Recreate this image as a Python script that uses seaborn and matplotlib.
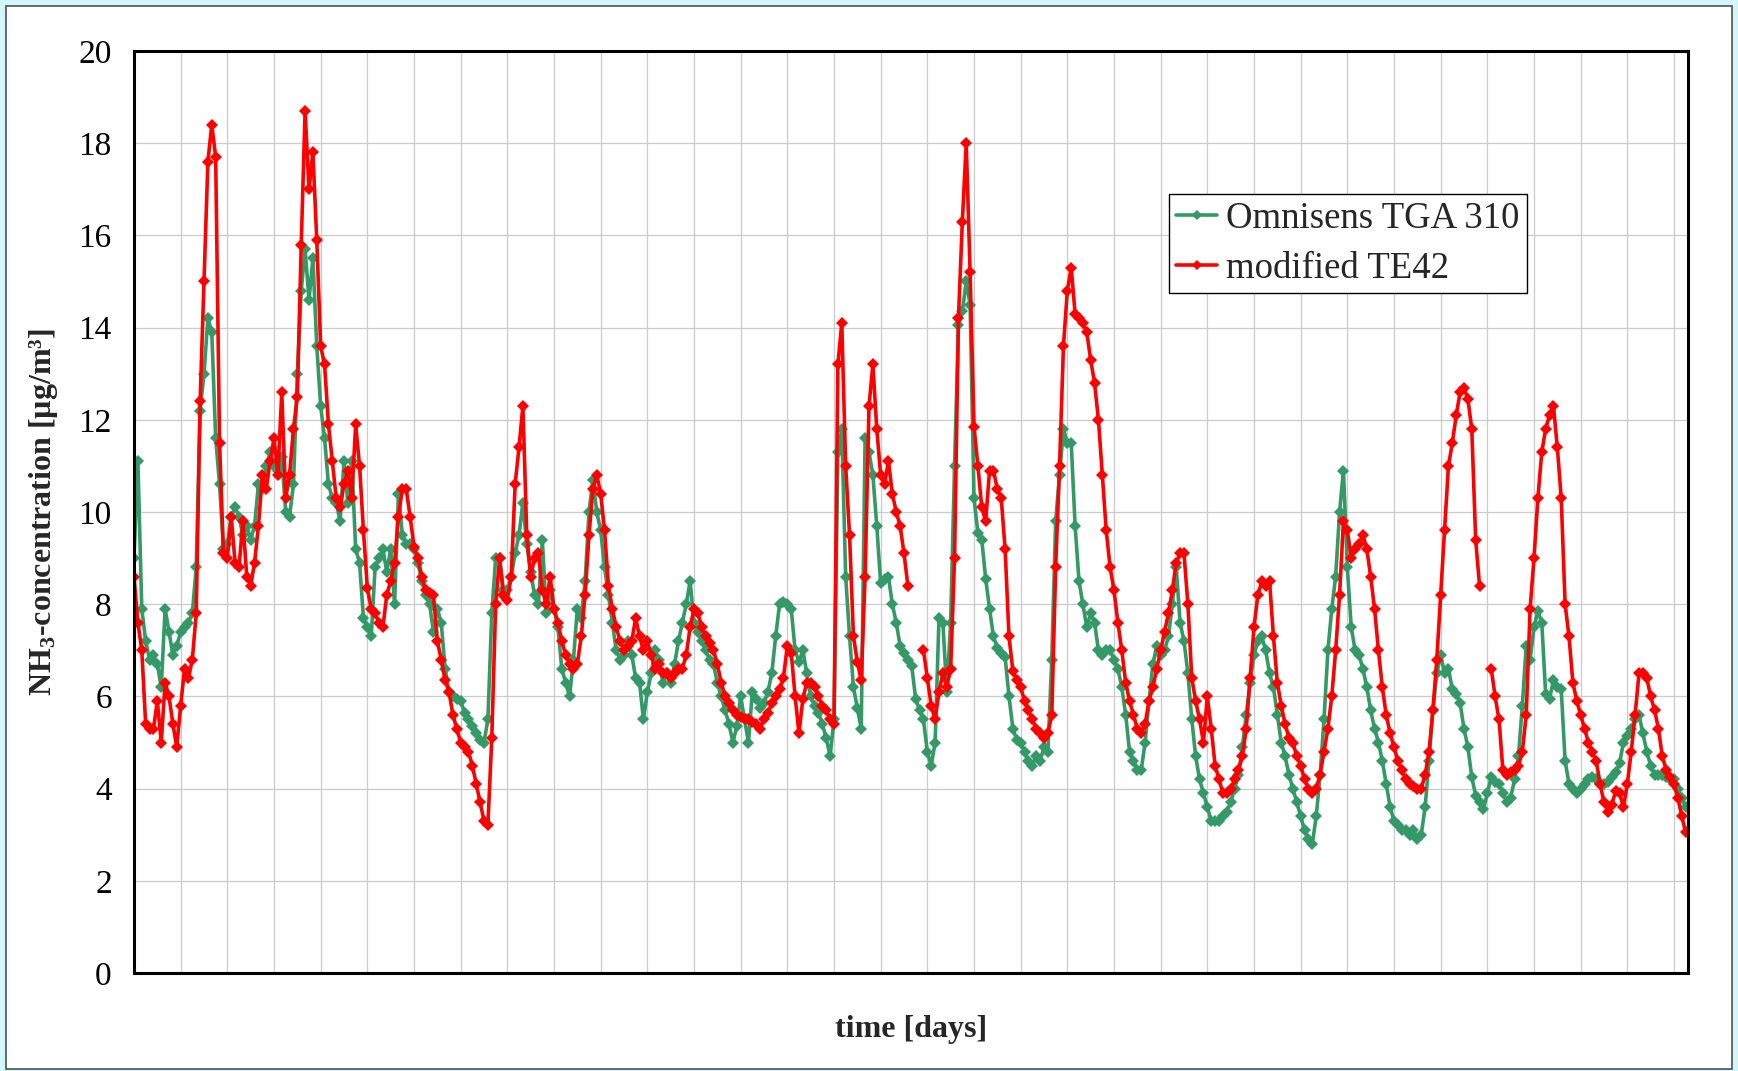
import numpy as np
import pandas as pd
import matplotlib
matplotlib.use("Agg")
import matplotlib.pyplot as plt
from matplotlib.lines import Line2D
from matplotlib.patches import Rectangle
import seaborn as sns

SAMPLES_PER_DAY = 12  # two-hourly readings
N_DAYS_SHOWN = 33.3

# NH3 concentration [µg/m³], one row per day (12 readings each)
omnisens_tga310 = [
    9.0, 11.1, 7.9, 7.2, 6.8, 6.9, 6.7, 6.2, 7.9, 7.4, 6.9, 7.1,
    7.4, 7.5, 7.6, 7.8, 8.8, 12.2, 13.0, 14.2, 13.9, 11.6, 10.6, 9.2,
    9.3, 9.9, 10.1, 9.9, 9.5, 9.7, 9.4, 9.7, 10.6, 10.5, 11.0, 11.3,
    11.0, 10.9, 11.2, 10.0, 9.9, 10.6, 13.0, 14.8, 15.7, 14.6, 15.5, 13.6,
    12.3, 11.6, 10.6, 10.3, 10.2, 9.8, 11.1, 10.2, 11.1, 9.2, 8.9, 7.7,
    7.5, 7.3, 8.8, 9.0, 9.2, 8.7, 9.2, 8.0, 10.4, 9.5, 9.3, 9.3,
    9.2, 8.9, 8.5, 8.2, 8.0, 7.4, 7.9, 7.6, 6.6, 6.1, 6.0, 5.95,
    5.9, 5.65, 5.5, 5.35, 5.2, 5.05, 5.0, 5.5, 7.8, 9.0, 9.0, 8.3,
    8.3, 8.6, 9.1, 9.5, 10.2, 9.3, 8.7, 8.2, 8.0, 9.4, 7.8, 8.3,
    7.9, 7.5, 6.6, 6.3, 6.0, 6.8, 7.9, 7.7, 8.5, 10.0, 10.7, 10.0,
    9.6, 8.8, 8.2, 7.6, 7.0, 6.8, 6.9, 7.2, 6.9, 6.4, 6.3, 5.5,
    6.1, 6.5, 7.0, 6.8, 6.3, 6.5, 6.3, 6.7, 7.2, 7.6, 8.0, 8.5,
    7.6, 7.4, 7.2, 7.0, 6.8, 6.7, 6.3, 6.0, 5.7, 5.4, 5.0, 5.35,
    6.0, 5.5, 5.0, 6.1, 5.95, 5.75, 5.85, 6.1, 6.5, 7.3, 8.0, 8.05,
    8.0, 7.9, 7.0, 6.75, 7.0, 6.5, 6.0, 5.8, 5.65, 5.4, 5.1, 4.7,
    5.5, 11.3, 11.8, 8.6, 7.3, 6.2, 5.75, 5.3, 11.6, 11.3, 10.8, 9.7,
    8.45, 8.55, 8.6, 8.0, 7.6, 7.1, 6.95, 6.8, 6.65, 5.95, 5.7, 5.5,
    4.8, 4.5, 5.0, 7.7, 7.6, 6.1, 7.6, 11.0, 14.05, 14.35, 15.0, 14.5,
    10.3, 9.55, 9.4, 8.55, 7.9, 7.3, 7.05, 6.95, 6.85, 6.0, 5.3, 5.05,
    5.0, 4.8, 4.6, 4.5, 4.7, 4.6, 4.9, 4.8, 6.8, 9.8, 10.8, 11.8,
    11.5, 11.5, 9.7, 8.5, 8.0, 7.5, 7.8, 7.6, 7.0, 6.9, 7.0, 7.0,
    6.8, 6.6, 6.2, 5.6, 4.8, 4.6, 4.4, 4.4, 5.0, 5.9, 6.7, 7.1,
    6.9, 7.0, 7.3, 8.0, 8.8, 7.6, 7.2, 6.5, 5.5, 4.7, 4.2, 3.9,
    3.6, 3.3, 3.3, 3.3, 3.4, 3.5, 3.7, 4.0, 4.3, 4.9, 5.6, 6.3,
    6.9, 7.2, 7.3, 7.0, 6.5, 6.2, 5.6, 5.0, 4.7, 4.3, 4.0, 3.7,
    3.4, 3.1, 2.9, 2.8, 3.4, 4.3, 5.5, 7.0, 7.9, 8.6, 10.0, 10.9,
    8.8, 7.5, 7.0, 6.9, 6.6, 6.2, 5.7, 5.3, 5.0, 4.6, 4.1, 3.6,
    3.3, 3.2, 3.1, 3.1, 3.0, 3.1, 2.9, 3.0, 3.6, 4.6, 5.7, 6.5,
    6.9, 6.5, 6.6, 6.15, 6.05, 5.85, 5.3, 4.9, 4.25, 3.85, 3.7, 3.55,
    3.9, 4.25, 4.15, 4.1, 3.9, 3.7, 3.8, 4.2, 4.7, 5.8, 7.1, 6.8,
    7.5, 7.85, 7.6, 6.05, 5.95, 6.35, 6.2, 6.15, 4.6, 4.1, 4.0, 3.9,
    4.0, 4.1, 4.2, 4.25, 4.2, 4.1, 4.1, 4.15, 4.25, 4.35, 4.55, 5.0,
    5.15, 5.3, 5.5, 5.6, 5.2, 4.8, 4.5, 4.3, 4.3, 4.3, 4.25, 4.2,
    4.2, 4.0, 3.8, 3.6,
]

modified_te42 = [
    8.6, 7.6, 7.0, 5.4, 5.3, 5.3, 5.9, 5.0, 6.3, 6.0, 5.4, 4.9,
    5.8, 6.6, 6.4, 6.8, 7.8, 12.4, 15.0, 17.6, 18.4, 17.7, 11.5, 9.1,
    9.0, 9.9, 8.9, 8.8, 9.8, 8.6, 8.4, 8.9, 9.7, 10.8, 10.5, 11.1,
    11.6, 10.8, 12.6, 10.3, 10.8, 11.8, 12.5, 15.8, 18.7, 17.0, 17.8, 15.9,
    13.6, 13.2, 11.9, 11.1, 10.3, 10.1, 10.6, 10.9, 10.3, 11.9, 11.0, 9.6,
    8.35, 7.9, 7.8, 7.6, 7.5, 8.2, 8.5, 8.9, 9.9, 10.5, 10.5, 9.9,
    9.25, 9.0, 8.6, 8.3, 8.25, 8.2, 7.2, 6.8, 6.35, 6.1, 5.6, 5.3,
    5.0, 4.9, 4.8, 4.5, 4.1, 3.7, 3.3, 3.2, 5.1, 8.0, 9.0, 8.2,
    8.1, 8.6, 10.6, 11.4, 12.3, 9.5, 8.6, 9.0, 9.1, 8.3, 8.0, 8.6,
    7.9, 7.6, 7.2, 6.9, 6.7, 6.6, 6.7, 7.3, 8.2, 9.5, 10.5, 10.8,
    10.4, 9.6, 8.4, 7.9, 7.5, 7.2, 7.0, 7.1, 7.2, 7.7, 7.3, 7.0,
    7.2, 6.9, 6.6, 6.7, 6.5, 6.5, 6.4, 6.5, 6.6, 6.6, 6.9, 7.5,
    7.9, 7.8, 7.5, 7.3, 7.15, 7.0, 6.7, 6.3, 6.0, 5.85, 5.7, 5.6,
    5.55, 5.5, 5.5, 5.45, 5.4, 5.3, 5.5, 5.65, 5.85, 6.0, 6.15, 6.4,
    7.1, 6.95, 6.0, 5.2, 5.95, 6.3, 6.3, 6.2, 6.0, 5.8, 5.7, 5.5,
    5.4, 13.2, 14.1, 11.0, 9.5, 7.3, 6.75, 6.35, 8.6, 12.3, 13.2, 11.8,
    10.8, 10.6, 11.1, 10.4, 10.0, 9.7, 9.1, 8.4, np.nan, np.nan, np.nan, 7.0,
    6.4, 5.8, 5.5, 6.1, 6.5, 6.2, 6.6, 9.0, 14.2, 16.3, 18.0, 15.2,
    11.85, 11.0, 10.1, 9.8, 10.9, 10.9, 10.5, 10.3, 9.2, 7.3, 6.55, 6.35,
    6.2, 5.9, 5.7, 5.5, 5.3, 5.2, 5.1, 5.2, 5.6, 8.8, 11.0, 13.6,
    14.8, 15.3, 14.3, 14.2, 14.1, 13.9, 13.3, 12.8, 12.0, 10.8, 9.6, 8.8,
    8.3, 7.6, 7.0, 6.3, 5.9, 5.6, 5.3, 5.2, 5.4, 5.9, 6.2, 6.6,
    7.0, 7.4, 7.8, 8.3, 8.9, 9.1, 9.1, 8.0, 6.4, 5.9, 5.5, 5.0,
    6.0, 5.3, 4.5, 4.2, 3.9, 3.9, 4.0, 4.2, 4.4, 4.7, 5.3, 6.4,
    7.5, 8.2, 8.5, 8.4, 8.5, 7.3, 6.3, 5.8, 5.4, 5.1, 5.0, 4.7,
    4.5, 4.2, 4.0, 3.9, 4.0, 4.3, 4.8, 5.3, 6.0, 7.0, 8.2, 9.8,
    9.6, 9.0, 9.2, 9.3, 9.5, 9.2, 8.6, 7.9, 7.0, 6.2, 5.6, 5.2,
    4.9, 4.6, 4.4, 4.2, 4.1, 4.05, 4.0, 4.0, 4.3, 4.8, 5.7, 6.8,
    8.2, 9.6, 11.0, 11.5, 12.1, 12.6, 12.7, 12.45, 11.8, 9.4, 8.4, np.nan,
    np.nan, 6.6, 6.0, 5.5, 4.4, 4.3, 4.35, 4.4, 4.5, 4.8, 5.6, 7.9,
    9.0, 10.3, 11.3, 11.8, 12.1, 12.3, 11.4, 10.3, 8.0, 7.3, 6.3, 5.9,
    5.6, 5.3, 5.0, 4.8, 4.6, 4.1, 3.7, 3.5, 3.65, 3.95, 3.9, 3.6,
    4.1, 4.8, 5.6, 6.5, 6.5, 6.4, 6.0, 5.7, 5.3, 4.7, 4.4, 4.25,
    4.1, 3.8, 3.4, 3.05,
]

series_names = ["Omnisens TGA 310", "modified TE42"]
series_colors = {"Omnisens TGA 310": "#339966", "modified TE42": "#FF0000"}
y_ticks = list(range(0, 21, 2))


def to_long(values, name):
    vals = np.asarray(values, dtype=float)
    day = np.arange(len(vals)) / SAMPLES_PER_DAY
    # a new segment starts after every gap so the line is broken there
    seg = np.cumsum(np.isnan(vals))
    frame = pd.DataFrame({"day": day, "conc": vals, "series": name,
                          "segment": [f"{name}-{s}" for s in seg]})
    return frame.dropna()


df = pd.concat([to_long(omnisens_tga310, series_names[0]),
                to_long(modified_te42, series_names[1])], ignore_index=True)

sns.set_style("white")
plt.rcParams["font.family"] = ["Liberation Serif", "DejaVu Serif"]
plt.rcParams["mathtext.fontset"] = "custom"
plt.rcParams["mathtext.rm"] = "Liberation Serif:bold"
plt.rcParams["mathtext.bf"] = "Liberation Serif:bold"
plt.rcParams["mathtext.default"] = "rm"

W, H = 1738, 1071
fig = plt.figure(figsize=(W / 100, H / 100), dpi=100, facecolor="#D3F6F8")
fig.patches.append(Rectangle((6 / W, 2 / H), (1732 - 6) / W, (1069 - 6) / H,
                             transform=fig.transFigure, facecolor="white",
                             edgecolor="#505050", linewidth=1.2, zorder=-1))

ax = fig.add_axes([134 / W, (H - 973) / H, (1688 - 134) / W, (973 - 51) / H])

sns.lineplot(data=df, x="day", y="conc", hue="series", hue_order=series_names,
             palette=series_colors, units="segment", estimator=None,
             marker="D", markersize=6.5, markeredgewidth=0, linewidth=2.6,
             legend=False, ax=ax)

ax.set_xlim(0, N_DAYS_SHOWN)
ax.set_ylim(0, 20)
ax.set_xticks(np.arange(0, 34))
ax.set_xticklabels([])
ax.set_yticks(y_ticks)
ax.set_yticklabels([str(v) for v in y_ticks], fontsize=24)
ax.tick_params(axis="y", direction="out", length=7, width=1.0, pad=9, colors="black")
ax.tick_params(axis="x", direction="out", length=5, width=1.0, colors="black")
ax.set_axisbelow(True)
ax.grid(True, color="#CBCBCB", linewidth=0.9)
for sp in ax.spines.values():
    sp.set_visible(True)
    sp.set_color("black")
    sp.set_linewidth(2.2)

ax.set_xlabel("time [days]", fontsize=23, fontweight="bold")
ax.xaxis.label.set_va("center")
ax.xaxis.set_label_coords(0.5, -0.061)
ax.set_ylabel("NH$_{3}$-concentration [µg/m³]", fontsize=23, fontweight="bold")
ax.yaxis.label.set_va("center")
ax.yaxis.set_label_coords(-0.058, 0.5)

handles = [Line2D([], [], color=series_colors[n], marker="D", markersize=5.0,
                  markeredgewidth=0, linewidth=2.6) for n in series_names]
leg = ax.legend(handles, series_names, loc="upper left", bbox_to_anchor=(0.666, 0.845),
                borderaxespad=0, fontsize=26.5, frameon=True, fancybox=False,
                framealpha=1, edgecolor="black", borderpad=0.2, handlelength=1.1,
                handletextpad=0.25, labelspacing=0.42, numpoints=1)
leg.get_frame().set_linewidth(1.0)

fig.savefig("out.png", dpi=100, facecolor=fig.get_facecolor())
